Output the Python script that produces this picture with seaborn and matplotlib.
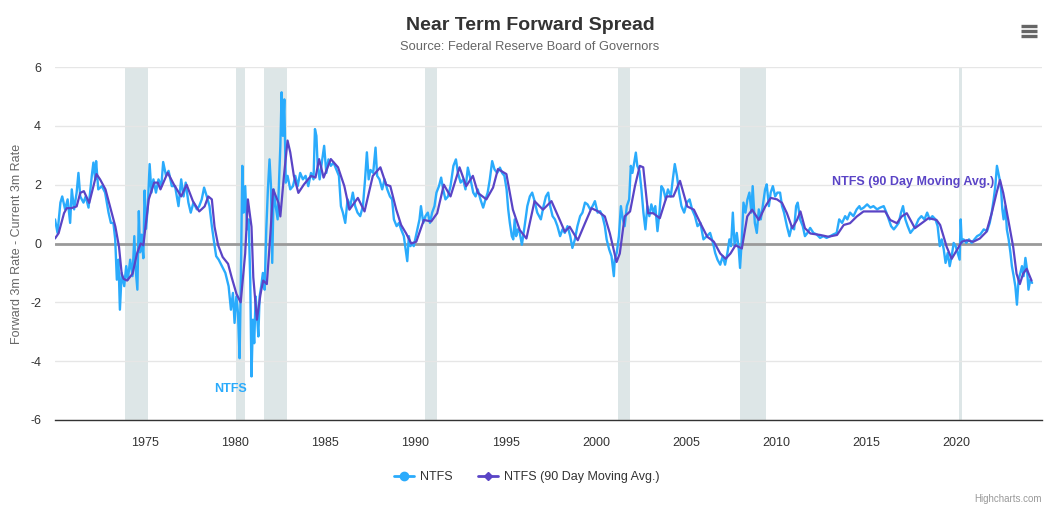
import pandas as pd
import numpy as np
import matplotlib
matplotlib.use("Agg")
import matplotlib.pyplot as plt
from matplotlib.lines import Line2D
import seaborn as sns

# NTFS (daily spread)
ntfs_year = [1970.0, 1970.14, 1970.3, 1970.4, 1970.56, 1970.7, 1970.84, 1970.93, 1971.06, 1971.2,
             1971.3, 1971.4, 1971.58, 1971.7, 1971.86, 1972.04, 1972.13, 1972.23, 1972.28, 1972.4,
             1972.6, 1972.78, 1972.97, 1973.1, 1973.24, 1973.34, 1973.43, 1973.52, 1973.6, 1973.7,
             1973.84, 1973.95, 1974.04, 1974.17, 1974.3, 1974.4, 1974.46, 1974.57, 1974.65, 1974.72,
             1974.8, 1974.9, 1974.97, 1975.05, 1975.15, 1975.25, 1975.35, 1975.46, 1975.6, 1975.74,
             1975.9, 1976.0, 1976.16, 1976.3, 1976.48, 1976.66, 1976.85, 1977.0, 1977.13, 1977.25,
             1977.4, 1977.53, 1977.68, 1977.87, 1978.0, 1978.14, 1978.27, 1978.42, 1978.57, 1978.7,
             1978.83, 1978.94, 1979.08, 1979.26, 1979.45, 1979.63, 1979.76, 1979.87, 1979.96, 1980.06,
             1980.15, 1980.24, 1980.31, 1980.39, 1980.46, 1980.55, 1980.65, 1980.74, 1980.83, 1980.9,
             1980.98, 1981.05, 1981.13, 1981.2, 1981.28, 1981.35, 1981.44, 1981.53, 1981.63, 1981.72,
             1981.81, 1981.9, 1981.98, 1982.05, 1982.13, 1982.24, 1982.35, 1982.42, 1982.5, 1982.57,
             1982.64, 1982.72, 1982.8, 1982.9, 1983.05, 1983.2, 1983.33, 1983.46, 1983.6, 1983.75,
             1983.9, 1984.05, 1984.2, 1984.34, 1984.42, 1984.5, 1984.57, 1984.68, 1984.8, 1984.93,
             1985.05, 1985.17, 1985.3, 1985.45, 1985.6, 1985.75, 1985.86, 1985.97, 1986.1, 1986.23,
             1986.38, 1986.52, 1986.65, 1986.78, 1986.93, 1987.08, 1987.2, 1987.3, 1987.4, 1987.5,
             1987.65, 1987.78, 1987.87, 1988.0, 1988.15, 1988.28, 1988.43, 1988.58, 1988.7, 1988.8,
             1988.95, 1989.08, 1989.2, 1989.35, 1989.45, 1989.54, 1989.63, 1989.72, 1989.8, 1989.9,
             1990.1, 1990.22, 1990.3, 1990.43, 1990.55, 1990.68, 1990.8, 1990.92, 1991.05, 1991.16,
             1991.3, 1991.42, 1991.53, 1991.66, 1991.8, 1991.94, 1992.1, 1992.24, 1992.35, 1992.5,
             1992.64, 1992.77, 1992.9, 1993.05, 1993.2, 1993.33, 1993.45, 1993.6, 1993.75, 1993.88,
             1994.0, 1994.12, 1994.25, 1994.38, 1994.53, 1994.68, 1994.8, 1994.93, 1995.05, 1995.14,
             1995.23, 1995.34, 1995.42, 1995.5, 1995.58, 1995.67, 1995.78, 1995.9, 1996.05, 1996.2,
             1996.34, 1996.47, 1996.6, 1996.75, 1996.95, 1997.1, 1997.23, 1997.36, 1997.47, 1997.6,
             1997.73, 1997.87, 1998.02, 1998.15, 1998.28, 1998.43, 1998.58, 1998.7, 1998.84, 1998.98,
             1999.13, 1999.26, 1999.4, 1999.54, 1999.69, 1999.82, 1999.95, 2000.1, 2000.24, 2000.37,
             2000.5, 2000.6, 2000.74, 2000.87, 2001.0, 2001.05, 2001.16, 2001.28, 2001.39, 2001.5,
             2001.6, 2001.72, 2001.85, 2001.94, 2002.03, 2002.13, 2002.22, 2002.3, 2002.42, 2002.53,
             2002.64, 2002.75, 2002.86, 2002.97, 2003.08, 2003.2, 2003.3, 2003.42, 2003.53, 2003.64,
             2003.75, 2003.88, 2004.0, 2004.16, 2004.27, 2004.38, 2004.5, 2004.62, 2004.75, 2004.9,
             2005.05, 2005.2, 2005.34, 2005.5, 2005.64, 2005.8, 2005.97, 2006.16, 2006.34, 2006.5,
             2006.62, 2006.75, 2006.9, 2007.04, 2007.17, 2007.3, 2007.41, 2007.5, 2007.6, 2007.7,
             2007.82, 2007.93, 2008.0, 2008.1, 2008.19, 2008.3, 2008.41, 2008.52, 2008.63, 2008.7,
             2008.82, 2008.93, 2009.04, 2009.15, 2009.26, 2009.39, 2009.48, 2009.6, 2009.7, 2009.82,
             2009.95, 2010.07, 2010.22, 2010.33, 2010.44, 2010.6, 2010.74, 2010.87, 2011.0, 2011.11,
             2011.2, 2011.33, 2011.48, 2011.6, 2011.74, 2011.89, 2012.07, 2012.25, 2012.44, 2012.62,
             2012.8, 2013.0, 2013.18, 2013.36, 2013.5, 2013.66, 2013.83, 2013.95, 2014.1, 2014.29,
             2014.47, 2014.62, 2014.7, 2014.86, 2015.05, 2015.23, 2015.4, 2015.6, 2015.77, 2015.97,
             2016.12, 2016.25, 2016.38, 2016.53, 2016.67, 2016.8, 2016.93, 2017.04, 2017.17, 2017.3,
             2017.45, 2017.6, 2017.74, 2017.9, 2018.06, 2018.23, 2018.38, 2018.52, 2018.67, 2018.84,
             2018.96, 2019.08, 2019.19, 2019.3, 2019.4, 2019.52, 2019.63, 2019.74, 2019.85, 2019.96,
             2020.07, 2020.18, 2020.24, 2020.3, 2020.4, 2020.55, 2020.7, 2020.85, 2021.0, 2021.15,
             2021.33, 2021.52, 2021.7, 2021.85, 2021.96, 2022.07, 2022.16, 2022.25, 2022.33, 2022.4,
             2022.48, 2022.55, 2022.62, 2022.72, 2022.8, 2022.9, 2023.0, 2023.08, 2023.18, 2023.27,
             2023.36, 2023.45, 2023.55, 2023.64, 2023.73, 2023.83, 2023.92, 2024.0, 2024.1, 2024.2]
ntfs_value = [0.82, 0.36, 1.39, 1.6, 1.16, 1.5, 0.7, 1.84, 1.16, 1.73,
              2.4, 1.6, 1.39, 1.6, 1.22, 2.3, 2.75, 2.18, 2.8, 1.84,
              1.95, 1.73, 1.05, 0.7, 0.7, 0.14, -1.23, -0.55, -2.25, -1.0,
              -1.45, -0.77, -1.23, -0.55, -1.11, 0.25, -0.77, -1.57, 1.1, -0.3,
              0.3, -0.5, 1.8, 0.5, 1.3, 2.7, 1.73, 2.18, 1.73, 2.18,
              1.95, 2.77, 2.3, 2.47, 1.95, 1.95, 1.27, 2.18, 1.6, 2.07,
              1.39, 1.05, 1.39, 1.16, 1.27, 1.5, 1.9, 1.6, 1.27, 0.59,
              0.02, -0.43, -0.55, -0.77, -1.0, -1.45, -2.25, -1.68, -2.7, -1.8,
              -2.36, -3.9, -1.23, 2.64, 1.05, 1.95, 0.48, 0.82, -1.23, -4.52,
              -2.59, -3.39, -1.8, -2.36, -3.16, -1.8, -1.45, -1.0, -1.57, 0.48,
              1.84, 2.86, 1.95, -0.66, 1.84, 1.27, 0.82, 1.95, 3.32, 5.14,
              3.66, 4.9, 2.07, 2.3, 1.84, 1.95, 2.3, 1.95, 2.4, 2.18,
              2.3, 1.95, 2.4, 2.18, 3.89, 3.66, 2.64, 2.18, 2.75, 3.32,
              2.4, 2.86, 2.64, 2.75, 2.52, 2.3, 1.27, 1.05, 0.7, 1.5,
              1.27, 1.73, 1.27, 1.05, 0.93, 1.27, 2.18, 3.1, 2.18, 2.5,
              2.4, 3.26, 2.3, 2.18, 1.84, 2.18, 1.84, 1.6, 1.5, 0.82,
              0.59, 0.7, 0.48, 0.25, -0.2, -0.6, 0.25, -0.09, 0.02, -0.09,
              0.48, 0.82, 1.27, 0.7, 0.93, 1.05, 0.7, 1.05, 1.27, 1.73,
              1.95, 2.24, 1.84, 1.5, 1.6, 1.95, 2.64, 2.86, 2.4, 2.07,
              2.18, 1.84, 2.58, 2.18, 1.73, 1.6, 1.84, 1.5, 1.22, 1.5,
              1.73, 2.18, 2.8, 2.52, 2.4, 2.58, 2.4, 2.3, 1.84, 1.16,
              0.7, 0.25, 0.14, 0.82, 0.25, 0.48, 0.36, -0.04, 0.59, 1.27,
              1.6, 1.73, 1.45, 1.05, 0.82, 1.27, 1.6, 1.73, 1.27, 0.93,
              0.82, 0.59, 0.25, 0.48, 0.36, 0.59, 0.25, -0.15, 0.14, 0.59,
              0.93, 1.05, 1.39, 1.33, 1.16, 1.27, 1.44, 1.05, 1.1, 0.93,
              0.59, 0.14, -0.2, -0.43, -1.11, -0.55, -0.32, 0.25, 1.27, 0.82,
              0.59, 1.27, 1.5, 2.64, 2.4, 2.75, 3.09, 2.64, 2.47, 1.84,
              1.05, 0.48, 1.27, 0.93, 1.33, 1.05, 1.27, 0.42, 1.05, 1.95,
              1.84, 1.5, 1.84, 1.6, 2.18, 2.7, 2.3, 1.73, 1.27, 1.05,
              1.39, 1.5, 1.16, 0.93, 0.59, 0.7, 0.14, 0.25, 0.36, 0.02,
              -0.32, -0.55, -0.72, -0.43, -0.72, -0.32, 0.14, -0.09, 1.05, -0.09,
              0.36, -0.2, -0.83, 0.14, 1.39, 1.05, 1.5, 1.73, 1.05, 1.95,
              0.7, 0.36, 1.16, 0.82, 1.27, 1.84, 2.01, 1.27, 1.73, 1.95,
              1.6, 1.73, 1.73, 1.27, 1.05, 0.59, 0.25, 0.59, 0.48, 1.27,
              1.39, 0.82, 0.59, 0.25, 0.36, 0.53, 0.36, 0.31, 0.19, 0.25,
              0.19, 0.25, 0.31, 0.36, 0.82, 0.7, 0.93, 0.82, 1.05, 0.93,
              1.16, 1.27, 1.16, 1.22, 1.33, 1.22, 1.27, 1.16, 1.22, 1.27,
              1.05, 0.82, 0.59, 0.48, 0.59, 0.7, 1.05, 1.27, 0.82, 0.59,
              0.36, 0.48, 0.59, 0.82, 0.93, 0.82, 1.05, 0.82, 0.93, 0.82,
              0.59, -0.09, 0.14, -0.2, -0.66, -0.32, -0.77, -0.43, 0.02, -0.09,
              -0.32, -0.55, 0.82, 0.02, 0.14, 0.02, 0.14, 0.02, 0.14, 0.25,
              0.31, 0.48, 0.42, 0.7, 1.05, 1.5, 1.95, 2.64, 2.4, 2.18,
              1.84, 1.16, 0.82, 1.27, 0.48, 0.14, -0.32, -0.77, -1.11, -1.45,
              -2.08, -1.23, -1.0, -0.77, -1.11, -0.49, -0.89, -1.57, -1.23, -1.34]

# NTFS 90 day moving average
ma_year = [1970.0, 1970.2, 1970.5, 1970.65, 1970.9, 1971.2, 1971.4, 1971.6, 1971.9, 1972.3,
           1972.5, 1972.8, 1973.1, 1973.35, 1973.55, 1973.7, 1973.8, 1974.0, 1974.3, 1974.55,
           1974.75, 1974.9, 1975.2, 1975.5, 1975.7, 1975.85, 1976.25, 1976.6, 1977.0, 1977.3,
           1977.65, 1978.0, 1978.3, 1978.5, 1978.7, 1978.85, 1979.05, 1979.3, 1979.6, 1979.8,
           1980.07, 1980.3, 1980.55, 1980.7, 1980.9, 1981.0, 1981.2, 1981.4, 1981.55, 1981.75,
           1981.95, 1982.1, 1982.4, 1982.5, 1982.7, 1982.9, 1983.05, 1983.25, 1983.5, 1983.8,
           1984.2, 1984.45, 1984.65, 1984.9, 1985.3, 1985.7, 1986.05, 1986.33, 1986.8, 1987.17,
           1987.63, 1988.05, 1988.37, 1988.6, 1988.93, 1989.2, 1989.48, 1989.76, 1990.04, 1990.46,
           1990.87, 1991.2, 1991.57, 1991.94, 1992.44, 1992.81, 1993.18, 1993.46, 1993.93, 1994.3,
           1994.57, 1995.04, 1995.4, 1995.78, 1996.15, 1996.6, 1997.07, 1997.54, 1998.0, 1998.28,
           1998.55, 1999.0, 1999.4, 1999.76, 2000.13, 2000.5, 2000.78, 2001.15, 2001.33, 2001.6,
           2001.9, 2002.17, 2002.44, 2002.63, 2002.9, 2003.18, 2003.55, 2003.93, 2004.3, 2004.67,
           2005.07, 2005.44, 2005.8, 2006.18, 2006.55, 2006.9, 2007.2, 2007.47, 2007.75, 2008.1,
           2008.4, 2008.67, 2009.04, 2009.4, 2009.7, 2010.05, 2010.33, 2010.6, 2010.9, 2011.16,
           2011.35, 2011.6, 2011.9, 2012.45, 2012.9, 2013.38, 2013.75, 2014.1, 2014.48, 2014.85,
           2015.4, 2016.05, 2016.33, 2016.7, 2016.97, 2017.25, 2017.7, 2018.08, 2018.45, 2018.9,
           2019.1, 2019.46, 2019.74, 2020.02, 2020.3, 2020.57, 2020.94, 2021.3, 2021.67, 2021.96,
           2022.23, 2022.42, 2022.6, 2022.88, 2023.15, 2023.34, 2023.52, 2023.7, 2023.9, 2024.17]
ma_value = [0.17, 0.35, 1.03, 1.2, 1.2, 1.26, 1.72, 1.78, 1.38, 2.36,
            2.18, 1.84, 1.15, 0.57, -0.11, -1.03, -1.2, -1.26, -1.03, -0.34,
            0.0, -0.06, 1.5, 2.07, 2.07, 1.84, 2.41, 2.0, 1.6, 2.0,
            1.44, 1.09, 1.26, 1.6, 1.5, 0.57, -0.06, -0.46, -0.69, -1.15,
            -1.72, -2.0, -0.34, 1.5, 0.57, -1.15, -2.59, -1.72, -1.26, -1.38,
            0.34, 1.84, 1.38, 0.92, 2.3, 3.5, 3.1, 2.3, 1.72, 2.0,
            2.3, 2.24, 2.87, 2.24, 2.87, 2.59, 1.95, 1.15, 1.55, 1.09,
            2.3, 2.59, 2.0, 1.95, 1.15, 0.63, 0.34, 0.0, 0.06, 0.8,
            0.75, 1.03, 2.0, 1.6, 2.59, 1.95, 2.3, 1.72, 1.5, 1.9,
            2.53, 2.36, 1.15, 0.46, 0.17, 1.44, 1.15, 1.44, 0.8, 0.4,
            0.57, 0.11, 0.69, 1.2, 1.09, 0.92, 0.34, -0.63, -0.34, 0.92,
            1.09, 1.95, 2.64, 2.59, 1.03, 1.03, 0.86, 1.6, 1.6, 2.13,
            1.26, 1.15, 0.69, 0.23, 0.06, -0.34, -0.52, -0.34, -0.06, -0.17,
            0.92, 1.15, 0.8, 1.26, 1.55, 1.5, 1.38, 1.03, 0.52, 0.8,
            1.09, 0.52, 0.34, 0.29, 0.23, 0.29, 0.63, 0.69, 0.92, 1.09,
            1.09, 1.09, 0.8, 0.69, 0.92, 1.03, 0.52, 0.69, 0.86, 0.8,
            0.63, -0.11, -0.52, -0.23, 0.06, 0.11, 0.06, 0.17, 0.4, 1.03,
            1.72, 2.16, 1.72, 0.8, -0.11, -1.03, -1.38, -1.03, -0.86, -1.26]

# recessions (start, end)
rec_start = [1973.88, 1980.03, 1981.6, 1990.53, 2001.22, 2007.97, 2020.12]
rec_end = [1975.15, 1980.52, 1982.87, 1991.17, 2001.87, 2009.45, 2020.33]

x_ticks = [1975, 1980, 1985, 1990, 1995, 2000, 2005, 2010, 2015, 2020]
y_ticks = [-6, -4, -2, 0, 2, 4, 6]

NTFS_COLOR = "#2aabfc"
MA_COLOR = "#5a44c6"

df_ntfs = pd.DataFrame({"year": ntfs_year, "value": ntfs_value})
df_ma = pd.DataFrame({"year": ma_year, "value": ma_value})

sns.set_style("white")
plt.rcParams["font.family"] = ["Liberation Sans", "DejaVu Sans"]
plt.rcParams["axes.unicode_minus"] = False

fig = plt.figure(figsize=(10.6, 5.09), dpi=100)
ax = fig.add_axes([55 / 1060, 1 - 420 / 509, (1042 - 55) / 1060, (420 - 67) / 509])

for s, e in zip(rec_start, rec_end):
    ax.axvspan(s, e, color="#dde6e7", zorder=0, lw=0)

for t in y_ticks:
    ax.axhline(t, color="#e6e6e6", lw=1, zorder=0.5)
ax.axhline(0, color="#9a9a9a", lw=2, zorder=1)

sns.lineplot(data=df_ntfs, x="year", y="value", ax=ax, color=NTFS_COLOR, lw=1.7,
             estimator=None, zorder=2)
sns.lineplot(data=df_ma, x="year", y="value", ax=ax, color=MA_COLOR, lw=1.6,
             estimator=None, zorder=3)

ax.set_xlim(1970.0, 2024.75)
ax.set_ylim(-6, 6)
ax.set_xticks(x_ticks)
ax.set_yticks(y_ticks)
ax.set_xlabel("")
ax.set_ylabel("Forward 3m Rate - Current 3m Rate", color="#666666", fontsize=9)
ax.yaxis.set_label_coords((23 - 55) / 987, 0.5)
ax.tick_params(axis="x", colors="#333333", labelsize=9, length=8, width=1, direction="out",
               pad=4, color="#333333")
ax.tick_params(axis="y", colors="#333333", labelsize=9, length=0, pad=10)
for side in ["top", "right", "left"]:
    ax.spines[side].set_visible(False)
ax.spines["bottom"].set_color("#333333")
ax.spines["bottom"].set_linewidth(1)

ax.text(1979.75, -4.93, "NTFS", color=NTFS_COLOR, fontsize=9, fontweight="bold",
        ha="center", va="center")
ax.text(2017.6, 2.09, "NTFS (90 Day Moving Avg.)", color=MA_COLOR, fontsize=9,
        fontweight="bold", ha="center", va="center")

fig.text(0.5, 1 - 25 / 509, "Near Term Forward Spread", ha="center", va="center",
         fontsize=14, fontweight="bold", color="#333333")
fig.text(0.5, 1 - 47 / 509, "Source: Federal Reserve Board of Governors", ha="center",
         va="center", fontsize=9.3, color="#666666")

handles = [Line2D([0], [0], color=NTFS_COLOR, lw=2, marker="o", markersize=6),
           Line2D([0], [0], color=MA_COLOR, lw=2, marker="D", markersize=4.5)]
fig.legend(handles, ["NTFS", "NTFS (90 Day Moving Avg.)"], loc="center",
           bbox_to_anchor=(0.497, 1 - 477 / 509), ncol=2, frameon=False, fontsize=9,
           handlelength=1.6, columnspacing=2.0, handletextpad=0.5, labelcolor="#333333")

fig.text(1042 / 1060, 1 - 499 / 509, "Highcharts.com", ha="right", va="center",
         fontsize=7, color="#999999")

# menu icon
for yy in [26, 31, 36]:
    fig.add_artist(Line2D([1021 / 1060, 1037 / 1060], [1 - yy / 509, 1 - yy / 509],
                          color="#666666", lw=2.4, solid_capstyle="butt"))

fig.savefig("out.png", dpi=100)
